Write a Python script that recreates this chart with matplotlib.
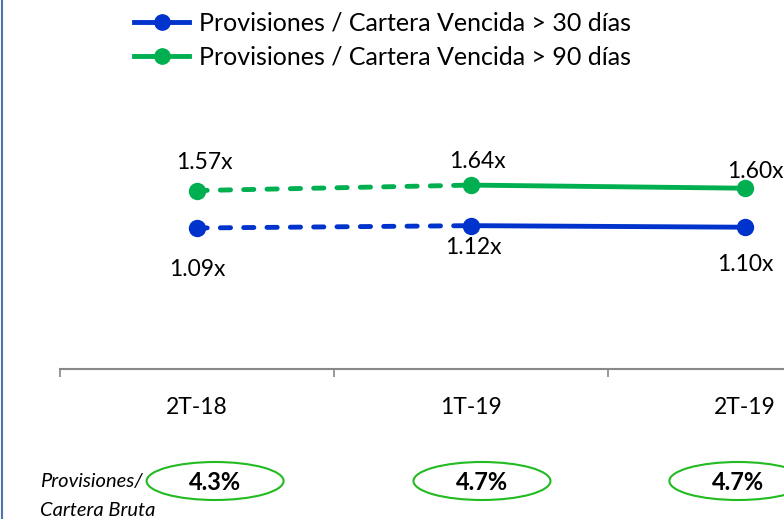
import matplotlib.pyplot as plt
from matplotlib.lines import Line2D
from matplotlib.patches import Ellipse
from matplotlib.transforms import blended_transform_factory

plt.rcParams['font.family'] = ['Lato', 'DejaVu Sans']

periods = ['2T-18', '1T-19', '2T-19']
prov_30 = [1.09, 1.12, 1.10]
prov_90 = [1.57, 1.64, 1.60]
labels_30 = ['1.09x', '1.12x', '1.10x']
labels_90 = ['1.57x', '1.64x', '1.60x']
cartera_bruta = ['4.3%', '4.7%', '4.7%']
series_names = ['Provisiones / Cartera Vencida > 30 días',
                'Provisiones / Cartera Vencida > 90 días']

blue = '#0033CC'
green = '#00B050'

fig = plt.figure(figsize=(7.84, 5.19), dpi=100)
ax = fig.add_axes([60 / 784, 1 - 369 / 519, 822 / 784, 309 / 519])

x = list(range(len(periods)))
handles = []
for vals, color, name in [(prov_30, blue, series_names[0]), (prov_90, green, series_names[1])]:
    # first segment dashed (estimated), rest solid
    ax.plot(x[:2], vals[:2], color=color, lw=3.5, ls=(0, (2.1, 2.7)),
            dash_capstyle='round', zorder=2)
    ax.plot(x[1:], vals[1:], color=color, lw=3.5, ls='-', zorder=2)
    ax.plot(x, vals, ls='none', marker='o', ms=11.5, color=color, zorder=3)
    handles.append(Line2D([], [], color=color, lw=3.5, marker='o', ms=11, label=name))

# data labels (pixel offsets from the points)
off_90 = [(7, 28), (6, 24), (10, 17)]
off_30 = [(0, -42), (2, -22), (0, -37)]
for i in x:
    ax.annotate(labels_90[i], (i, prov_90[i]), xytext=off_90[i], textcoords='offset pixels',
                ha='center', va='center', fontsize=16.5)
    ax.annotate(labels_30[i], (i, prov_30[i]), xytext=off_30[i], textcoords='offset pixels',
                ha='center', va='center', fontsize=16.5)

ax.set_xlim(-0.5, 2.5)
ax.set_ylim(-0.718, 3.244)
ax.set_xticks(x)
ax.set_xticklabels(periods, fontsize=16.5)
ax.set_xticks([-0.5, 0.5, 1.5, 2.5], minor=True)
ax.tick_params(axis='x', which='major', length=0, pad=20)
ax.tick_params(axis='x', which='minor', length=6, width=1.2, color='#888888', direction='out')
ax.set_yticks([])
for s in ['top', 'left', 'right']:
    ax.spines[s].set_visible(False)
ax.spines['bottom'].set_color('#888888')
ax.spines['bottom'].set_linewidth(1.5)

fig.legend(handles=handles, loc='upper left', bbox_to_anchor=(124 / 784, 0.997),
           frameon=False, fontsize=18, handlelength=2.2, handletextpad=0.4,
           labelspacing=0.45, borderaxespad=0.0)

# Provisiones / Cartera Bruta row
fig.text(40 / 784, 1 - 481 / 519, 'Provisiones/', fontsize=14.5, style='italic',
         ha='left', va='center')
fig.text(40 / 784, 1 - 511 / 519, 'Cartera Bruta', fontsize=14.5, style='italic',
         ha='left', va='center')
trans = blended_transform_factory(ax.transData, fig.transFigure)
ell_shift = [0.066, 0.04, -0.026]
for i in x:
    cx = i + ell_shift[i]
    ax.add_patch(Ellipse((cx, 1 - 481 / 519), 0.5, 38 / 519, transform=trans,
                         fill=False, edgecolor='#22BB22', lw=1.5, clip_on=False))
    ax.text(cx, 1 - 482 / 519, cartera_bruta[i], transform=trans, fontsize=17,
            fontweight='bold', ha='center', va='center')

fig.add_artist(Line2D([2 / 784, 2 / 784], [0, 1], color='#4F72B0', lw=1.5))

fig.savefig('out.png', dpi=100)
